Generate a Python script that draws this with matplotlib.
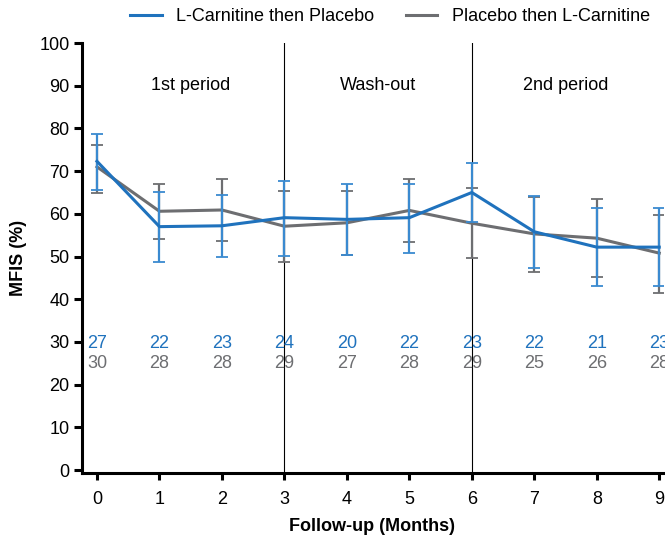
import numpy as np
import matplotlib.pyplot as plt

plt.rcParams['font.family'] = ['Liberation Sans', 'DejaVu Sans']

# -----------------------------------------------------------------------------
# data

months = [0, 1, 2, 3, 4, 5, 6, 7, 8, 9]

carn_mean = [72.3, 57.0, 57.2, 59.1, 58.7, 59.1, 65.0, 55.8, 52.2, 52.2]
carn_upper = [78.8, 65.2, 64.4, 67.8, 67.0, 67.1, 71.8, 64.2, 61.4, 61.4]
carn_lower = [65.6, 48.7, 49.9, 50.1, 50.4, 50.9, 58.0, 47.4, 43.1, 43.1]
carn_n = [27, 22, 23, 24, 20, 22, 23, 22, 21, 23]

plac_mean = [71.0, 60.6, 60.9, 57.1, 57.9, 60.8, 57.8, 55.3, 54.3, 50.8]
plac_upper = [76.2, 67.1, 68.1, 65.4, 65.4, 68.2, 66.0, 64.0, 63.4, 59.8]
plac_lower = [64.9, 54.1, 53.7, 48.8, 50.4, 53.3, 49.6, 46.3, 45.3, 41.5]
plac_n = [30, 28, 28, 29, 27, 28, 29, 25, 26, 28]

periods = ['1st period', 'Wash-out', '2nd period']
period_x = [1.5, 4.5, 7.5]

# -----------------------------------------------------------------------------

BLUE = '#1f72bd'
BLUE_CAP = '#3a8ad0'
GREY = '#6d6e71'
FS = 13

fig = plt.figure(figsize=(6.65, 5.38), dpi=100)
ax = fig.add_axes([0.1233, 0.1208, 0.8737, 0.7992])

x = np.array(months)


def draw_series(mean, lower, upper, color, ecolor, label, z):
    mean = np.array(mean)
    yerr = [mean - np.array(lower), np.array(upper) - mean]
    ax.errorbar(x, mean, yerr=yerr, fmt='none', ecolor=ecolor,
                elinewidth=1.6, capsize=4.5, capthick=1.3, zorder=z)
    ax.plot(x, mean, color=color, lw=2.2, label=label, zorder=z + 1)


draw_series(plac_mean, plac_lower, plac_upper, GREY, GREY,
            'Placebo then L-Carnitine', 3)
draw_series(carn_mean, carn_lower, carn_upper, BLUE, BLUE_CAP,
            'L-Carnitine then Placebo', 5)

# period separators
for xv in (3, 6):
    ax.plot([xv, xv], [-0.7, 100], color='black', lw=0.8, zorder=2)

for px, name in zip(period_x, periods):
    ax.text(px, 90, name, ha='center', va='center', fontsize=FS)

# patient counts
for xi, n1, n2 in zip(months, carn_n, plac_n):
    ax.text(xi, 29.7, str(n1), ha='center', va='center', fontsize=FS,
            color=BLUE, zorder=6)
    ax.text(xi, 25.0, str(n2), ha='center', va='center', fontsize=FS,
            color=GREY, zorder=6)

ax.set_xlim(-0.24, 9.06)
ax.set_ylim(-0.7, 100)
ax.set_xticks(months)
ax.set_yticks(range(0, 101, 10))
ax.tick_params(labelsize=FS, width=2.2)
ax.tick_params(axis='x', length=5, pad=8)
ax.tick_params(axis='y', length=6, pad=3)
for side in ('top', 'right'):
    ax.spines[side].set_visible(False)
for side in ('left', 'bottom'):
    ax.spines[side].set_linewidth(2.2)

ax.set_xlabel('Follow-up (Months)', fontsize=FS, fontweight='bold',
              labelpad=7)
ax.set_ylabel('MFIS (%)', fontsize=FS, fontweight='bold', labelpad=9)

handles, labels = ax.get_legend_handles_labels()
fig.legend(handles[::-1], labels[::-1], loc='upper left',
           bbox_to_anchor=(0.1955, 0.985), ncol=2, frameon=False,
           fontsize=FS, handlelength=1.75, handletextpad=0.8,
           columnspacing=1.75, borderpad=0, borderaxespad=0)

fig.savefig('out.png', dpi=100)
